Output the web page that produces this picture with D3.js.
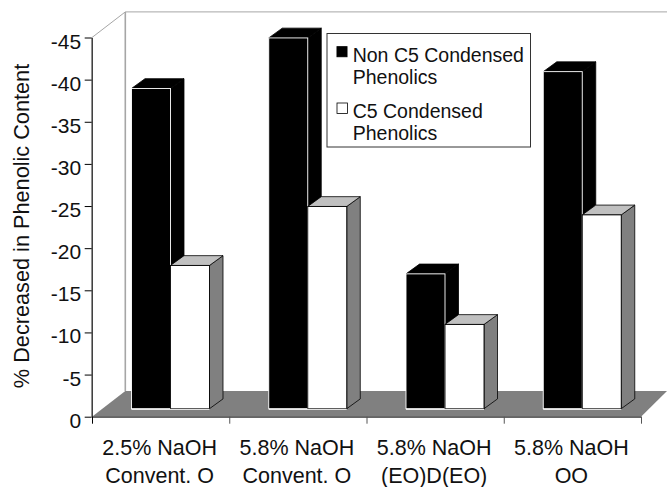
<!DOCTYPE html>
<html><head><meta charset="utf-8">
<script src="https://cdn.jsdelivr.net/npm/d3@7"></script>
<style>html,body{margin:0;padding:0;background:#fff}svg{display:block}text{font-family:"Liberation Sans",Arial,sans-serif;fill:#111}</style>
</head><body><svg id="c" width="667" height="487"></svg>
<script>
const categories=[["2.5% NaOH","Convent. O"],["5.8% NaOH","Convent. O"],["5.8% NaOH","(EO)D(EO)"],["5.8% NaOH","OO"]];
const nonC5=[-38,-44,-16,-40];
const c5=[-17,-24,-10,-23];
const yTicks=[0,-5,-10,-15,-20,-25,-30,-35,-40,-45];
const legendLabels=[["Non C5 Condensed","Phenolics"],["C5 Condensed","Phenolics"]];
const yTitle="% Decreased in Phenolic Content";

const svg=d3.select("#c");
const y=d3.scaleLinear().domain([0,-45]).range([416.7,37.5]);
const x0=d3.scaleBand().domain(d3.range(4)).range([92,641]);
const xTick=d3.scaleLinear().domain([0,4]).range([92,641]);
const x1=d3.scaleBand().domain([0,1]).range([39.5,117.5]);
const depthX=33.3,depthY=25.6,barDX=13.5,barDY=9.8,baseLift=8;
const pts=a=>a.map(p=>p.join(",")).join(" ");

// walls
const wall="#a6a6a6";
svg.append("polyline").attr("points",pts([[92,y(0)],[92,y(-45)],[92+depthX,y(-45)-depthY],[667,y(-45)-depthY]])).attr("fill","none").attr("stroke",wall).attr("stroke-width",1);
svg.append("line").attr("x1",92+depthX).attr("x2",92+depthX).attr("y1",y(-45)-depthY).attr("y2",y(0)-depthY).attr("stroke",wall).attr("stroke-width",1.6);
svg.append("polygon").attr("points",pts([[92,y(0)],[92+depthX,y(0)-depthY],[667,y(0)-depthY],[667,y(0)-depthY+0.01],[641,y(0)]])).attr("fill","#808080");

// bars
const series=[{v:nonC5,i:0,front:"#000",side:"#000",top:"#000"},{v:c5,i:1,front:"#fff",side:"#808080",top:"#c0c0c0"}];
categories.forEach((c,g)=>{
  series.forEach(s=>{
    const l=x0(g)+x1(s.i),w=x1.bandwidth(),r=l+w;
    const base=y(0)-baseLift,t=y(s.v[g])-baseLift;
    const b=svg.append("g");
    b.append("polygon").attr("points",pts([[r,t],[r+barDX,t-barDY],[r+barDX,base-barDY],[r,base]])).attr("fill",s.side).attr("stroke","#000").attr("stroke-width",.8);
    b.append("polygon").attr("points",pts([[l,t],[l+barDX,t-barDY],[r+barDX,t-barDY],[r,t]])).attr("fill",s.top).attr("stroke","#000").attr("stroke-width",.8);
    b.append("rect").attr("x",l).attr("y",t).attr("width",w).attr("height",base-t).attr("fill",s.front).attr("stroke",s.i?"#000":"#fff").attr("stroke-width",.9);
  });
  svg.append("line").attr("x1",x0(g)+x1(0)).attr("x2",x0(g)+x1(1)+x1.bandwidth()).attr("y1",y(0)-baseLift+.6).attr("y2",y(0)-baseLift+.6).attr("stroke","#fff").attr("stroke-width",1);
});

// axes
const yAxis=d3.axisLeft(y).tickValues(yTicks).tickSize(7).tickSizeOuter(0).tickFormat(d=>d===0?"0":"-"+Math.abs(d));
const ga=svg.append("g").attr("transform","translate(91.7,0)").call(yAxis);
ga.selectAll("text").style("font-size","21px").attr("x",-10.5).attr("dy","0.5em");
ga.selectAll("line,path").attr("stroke","#000").attr("stroke-width",1);
const xAxis=d3.axisBottom(xTick).tickValues([0,1,2,3,4]).tickSize(7).tickSizeOuter(0).tickFormat("");
const gb=svg.append("g").attr("transform","translate(0,416.7)").call(xAxis);
gb.select("path").attr("stroke","#333").attr("stroke-width",1.2);
gb.selectAll("line").attr("stroke","#555");
gb.selectAll(".tick").filter(d=>d===0).select("line").attr("stroke","#000");

// category labels
categories.forEach((c,g)=>{
  c.forEach((ln,i)=>svg.append("text").attr("x",x0(g)+x0.bandwidth()/2-1).attr("y",455+i*27.7).attr("text-anchor","middle").style("font-size","21.5px").text(ln));
});

// y title
svg.append("text").attr("transform","translate(28.5,226) rotate(-90)").attr("text-anchor","middle").style("font-size","21.7px").text(yTitle);

// legend
svg.append("rect").attr("x",327).attr("y",33.5).attr("width",203.5).attr("height",113.5).attr("fill","#fff").attr("stroke","#333").attr("stroke-width",1);
svg.append("rect").attr("x",337).attr("y",46.7).attr("width",10).attr("height",10).attr("fill","#000").attr("stroke","#000");
svg.append("rect").attr("x",337).attr("y",103).attr("width",10.5).attr("height",10.5).attr("fill","#fff").attr("stroke","#000").attr("stroke-width",.8);
legendLabels.forEach((ls,i)=>ls.forEach((ln,j)=>svg.append("text").attr("x",352.7).attr("y",62.3+i*56+j*21.7).style("font-size","19.5px").text(ln)));
</script></body></html>
